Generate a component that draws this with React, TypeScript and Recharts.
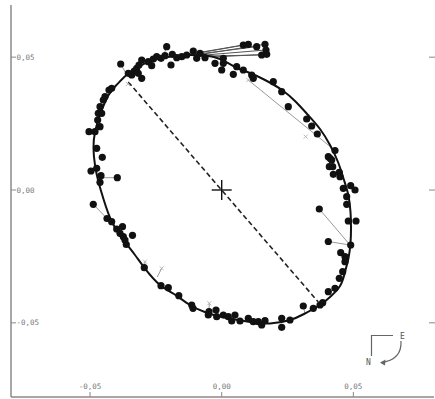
import {
  ComposedChart,
  Line,
  ReferenceLine,
  Scatter,
  XAxis,
  YAxis,
} from "recharts"

const ORBIT = [
  { x: -0.01204, y: 0.05081 }, { x: -0.00634, y: 0.05063 }, { x: -0.00065, y: 0.04931 },
  { x: 0.00505, y: 0.0463 }, { x: 0.01075, y: 0.04404 }, { x: 0.01645, y: 0.0414 },
  { x: 0.0229, y: 0.03764 }, { x: 0.02822, y: 0.03312 }, { x: 0.03278, y: 0.02823 },
  { x: 0.03733, y: 0.02296 }, { x: 0.04113, y: 0.01694 }, { x: 0.04417, y: 0.01054 },
  { x: 0.04645, y: 0.00376 }, { x: 0.04808, y: -0.00188 }, { x: 0.04892, y: -0.00828 },
  { x: 0.04911, y: -0.0143 }, { x: 0.04892, y: -0.01995 }, { x: 0.04816, y: -0.0256 },
  { x: 0.04683, y: -0.03086 }, { x: 0.04493, y: -0.03613 }, { x: 0.04113, y: -0.04027 },
  { x: 0.03733, y: -0.04329 }, { x: 0.03126, y: -0.04667 }, { x: 0.02594, y: -0.04893 },
  { x: 0.01834, y: -0.05025 }, { x: 0.01075, y: -0.04968 }, { x: 0.00505, y: -0.04874 },
  { x: -0.00065, y: -0.04761 }, { x: -0.00596, y: -0.04611 }, { x: -0.01204, y: -0.04329 },
  { x: -0.01812, y: -0.03915 }, { x: -0.02343, y: -0.03576 }, { x: -0.02913, y: -0.02955 },
  { x: -0.03293, y: -0.02447 }, { x: -0.03673, y: -0.01957 }, { x: -0.04166, y: -0.01204 },
  { x: -0.04489, y: -0.00339 }, { x: -0.04679, y: 0.00301 }, { x: -0.04812, y: 0.00941 },
  { x: -0.04869, y: 0.01581 }, { x: -0.04812, y: 0.02183 }, { x: -0.04622, y: 0.02823 },
  { x: -0.04318, y: 0.03538 }, { x: -0.03995, y: 0.03952 }, { x: -0.03616, y: 0.04329 },
  { x: -0.03179, y: 0.0463 }, { x: -0.02647, y: 0.04874 }, { x: -0.0204, y: 0.05006 },
  { x: -0.01584, y: 0.05063 }, { x: -0.01204, y: 0.05081 },
]

// observed positions
const OBSERVED = [
  // upper left
  { x: -0.03836, y: 0.04743 }, { x: -0.03547, y: 0.04393 }, { x: -0.03418, y: 0.04329 },
  { x: -0.03319, y: 0.04479 }, { x: -0.03228, y: 0.04581 }, { x: -0.03141, y: 0.04705 },
  { x: -0.03038, y: 0.04893 }, { x: -0.03168, y: 0.04393 }, { x: -0.03038, y: 0.04204 },
  { x: -0.02788, y: 0.04829 }, { x: -0.02659, y: 0.04679 }, { x: -0.02598, y: 0.04931 },
  { x: -0.02469, y: 0.05017 }, { x: -0.02305, y: 0.04957 }, { x: -0.02153, y: 0.05055 },
  { x: -0.02089, y: 0.05394 }, { x: -0.01876, y: 0.05108 }, { x: -0.01926, y: 0.04705 },
  { x: -0.01709, y: 0.0498 }, { x: -0.01519, y: 0.05017 }, { x: -0.01329, y: 0.05081 },
  { x: -0.01079, y: 0.05232 }, { x: -0.0095, y: 0.04957 }, { x: -0.00824, y: 0.05145 },
  { x: -0.00634, y: 0.0498 }, { x: -0.00254, y: 0.04769 }, { x: 0.00061, y: 0.04957 },
  { x: 0.00061, y: 0.04769 }, { x: 0.0, y: 0.04517 }, { x: 0.00441, y: 0.04355 },
  { x: 0.0057, y: 0.04641 }, { x: 0.0082, y: 0.04517 }, { x: 0.01139, y: 0.04329 },
  { x: 0.012, y: 0.04204 }, { x: 0.0196, y: 0.04076 }, { x: 0.02279, y: 0.037 },
  { x: 0.02529, y: 0.03135 },
  // the stray group at the top
  { x: 0.0082, y: 0.05458 }, { x: 0.0101, y: 0.05484 }, { x: 0.01329, y: 0.05394 },
  { x: 0.01645, y: 0.05484 }, { x: 0.01683, y: 0.0527 }, { x: 0.01519, y: 0.05081 },
  { x: 0.01709, y: 0.05108 },
  // left side
  { x: -0.04178, y: 0.03828 }, { x: -0.0428, y: 0.03764 }, { x: -0.04432, y: 0.03512 },
  { x: -0.04497, y: 0.03388 }, { x: -0.04622, y: 0.03135 }, { x: -0.04687, y: 0.02887 },
  { x: -0.04558, y: 0.02887 }, { x: -0.0471, y: 0.02635 }, { x: -0.04622, y: 0.02383 },
  { x: -0.0504, y: 0.02194 }, { x: -0.04812, y: 0.02194 }, { x: -0.04748, y: 0.0157 },
  { x: -0.04535, y: 0.01231 }, { x: -0.04748, y: 0.00817 }, { x: -0.04964, y: 0.00715 },
  { x: -0.04584, y: 0.00538 }, { x: -0.03965, y: 0.00463 }, { x: -0.04622, y: 0.0029 },
  { x: -0.04877, y: -0.00538 }, { x: -0.04356, y: -0.01073 }, { x: -0.04178, y: -0.01193 },
  { x: -0.03988, y: -0.01468 }, { x: -0.03768, y: -0.01381 }, { x: -0.03863, y: -0.0163 },
  { x: -0.03737, y: -0.01758 }, { x: -0.03388, y: -0.01705 }, { x: -0.03673, y: -0.01882 },
  { x: -0.03623, y: -0.02051 }, { x: -0.0294, y: -0.02925 },
  // bottom
  { x: -0.02305, y: -0.03602 }, { x: -0.02028, y: -0.03677 }, { x: -0.01629, y: -0.03979 },
  { x: -0.01139, y: -0.04329 }, { x: -0.0109, y: -0.04453 }, { x: -0.00482, y: -0.04581 },
  { x: -0.00216, y: -0.04517 }, { x: -0.00509, y: -0.04705 }, { x: -0.0019, y: -0.04769 },
  { x: 0.00061, y: -0.04705 }, { x: 0.00251, y: -0.04769 }, { x: 0.0038, y: -0.04931 },
  { x: 0.00505, y: -0.04705 }, { x: 0.00695, y: -0.04931 }, { x: 0.0101, y: -0.04829 },
  { x: 0.012, y: -0.04957 }, { x: 0.0139, y: -0.04957 }, { x: 0.01519, y: -0.05081 },
  { x: 0.01645, y: -0.0492 }, { x: 0.02279, y: -0.04829 }, { x: 0.02279, y: -0.05168 },
  { x: 0.02594, y: -0.04893 }, { x: 0.03099, y: -0.04366 }, { x: 0.03479, y: -0.04453 },
  { x: 0.03733, y: -0.04329 }, { x: 0.03836, y: -0.04242 },
  // lower right
  { x: 0.04049, y: -0.03828 }, { x: 0.04303, y: -0.037 }, { x: 0.04466, y: -0.03324 },
  { x: 0.04596, y: -0.03075 }, { x: 0.04683, y: -0.02699 }, { x: 0.0452, y: -0.0236 },
  { x: 0.04683, y: -0.02511 }, { x: 0.04049, y: -0.01938 }, { x: 0.04899, y: -0.0207 },
  { x: 0.03707, y: -0.00715 },
  // upper right
  { x: 0.03228, y: 0.02672 }, { x: 0.03418, y: 0.02409 }, { x: 0.03631, y: 0.02108 },
  { x: 0.04303, y: 0.01487 }, { x: 0.04049, y: 0.01253 }, { x: 0.04113, y: 0.01193 },
  { x: 0.04178, y: 0.01129 }, { x: 0.04087, y: 0.00877 }, { x: 0.04216, y: 0.00877 },
  { x: 0.04239, y: 0.00591 }, { x: 0.04466, y: 0.00666 }, { x: 0.04493, y: 0.00501 },
  { x: 0.04618, y: 0.00064 }, { x: 0.04899, y: 0.00162 }, { x: 0.05063, y: 0.0 },
  { x: 0.04748, y: -0.00252 }, { x: 0.04748, y: -0.00538 }, { x: 0.04808, y: -0.01167 },
  { x: 0.05101, y: -0.01167 },
]

// O-C lines: observed -> computed  [x1, y1, x2, y2]
const TOP_LINKS = [
  [0.0082, 0.05458, -0.01508, 0.05063],
  [0.0101, 0.05484, -0.01318, 0.05081],
  [0.01329, 0.05394, -0.01128, 0.05089],
  [0.01645, 0.05484, -0.00938, 0.05081],
  [0.01683, 0.0527, -0.00748, 0.0507],
  [0.01519, 0.05081, -0.00558, 0.05044],
  [0.01709, 0.05108, -0.00368, 0.05006],
]
const RESIDUALS = [
  [-0.03836, 0.04743, -0.03578, 0.04291],
  [-0.02089, 0.05394, -0.02229, 0.05006],
  [-0.03965, 0.00463, -0.0466, 0.00463],
  [-0.04877, -0.00538, -0.04356, -0.01073],
  [-0.02279, -0.02947, -0.02446, -0.03275],
  [-0.02913, -0.02699, -0.0294, -0.02925],
  [-0.00471, -0.04265, -0.00482, -0.04581],
  [0.03099, -0.04366, 0.03164, -0.04649],
  [0.03707, -0.00715, 0.04873, -0.0207],
  [0.04049, -0.01938, 0.04873, -0.0207],
  [0.0101, 0.0414, 0.04303, 0.01487],
]
// small grey marks at computed positions
const COMPUTED = [
  { x: -0.03559, y: 0.0399 }, { x: 0.0101, y: 0.0414 }, { x: 0.0319, y: 0.02006 },
  { x: -0.02913, y: -0.02699 }, { x: -0.02279, y: -0.02947 }, { x: -0.00471, y: -0.04265 },
]
const NODE_LINE = [
  { x: -0.03547, y: 0.04065 },
  { x: 0.03669, y: -0.04216 },
]
const PRIMARY = [{ x: 0, y: 0 }]
const TICKS = [-0.05, 0, 0.05]

const X_DOMAIN = [-0.08002, 0.08063]
const Y_DOMAIN = [-0.07791, 0.06963]

const AXIS_GREY = "#8a8a8a"
const LABEL_GREY = "#777"
const MONO = "'DejaVu Sans Mono', monospace"

const fmt = (v: number) => v.toFixed(2).replace(".", ",")

function LeftTick({ x, y, payload }: any) {
  return (
    <g>
      <line x1={x} y1={y} x2={x + 5} y2={y} stroke={AXIS_GREY} />
      <text x={x + 5.5} y={y + 2.5} fontSize={7.5} fill={LABEL_GREY} fontFamily={MONO}>
        {fmt(payload.value)}
      </text>
    </g>
  )
}

function RightTick({ x, y }: any) {
  return <line x1={x - 5} y1={y} x2={x + 1} y2={y} stroke={AXIS_GREY} />
}

function BottomTick({ x, y, payload }: any) {
  return (
    <g>
      <line x1={x} y1={y} x2={x} y2={y - 5} stroke={AXIS_GREY} />
      <text x={x} y={y - 8} fontSize={7.5} fill={LABEL_GREY} fontFamily={MONO} textAnchor="middle">
        {fmt(payload.value)}
      </text>
    </g>
  )
}

const Dot = (p: any) => <circle cx={p.cx} cy={p.cy} r={3.6} fill="#111" />

const Plus = (p: any) => (
  <g stroke="#111" strokeWidth={1.4}>
    <line x1={p.cx - 10} y1={p.cy} x2={p.cx + 10} y2={p.cy} />
    <line x1={p.cx} y1={p.cy - 10} x2={p.cx} y2={p.cy + 10} />
  </g>
)

const SmallX = (p: any) => (
  <g stroke="#aaa" strokeWidth={0.8}>
    <line x1={p.cx - 2} y1={p.cy - 2} x2={p.cx + 2} y2={p.cy + 2} />
    <line x1={p.cx - 2} y1={p.cy + 2} x2={p.cx + 2} y2={p.cy - 2} />
  </g>
)

function Compass() {
  return (
    <svg width={435} height={399} style={{ position: "absolute", left: 0, top: 0, pointerEvents: "none" }}>
      <path d="M371.5 356 V335.5 H393" fill="none" stroke="#666" strokeWidth={1.2} />
      <text x={400} y={338.5} fontSize={8} fill="#555" fontFamily={MONO}>E</text>
      <text x={366} y={365} fontSize={8} fill="#555" fontFamily={MONO}>N</text>
      <path d="M401 341 Q402 360 381 362.5" fill="none" stroke="#666" strokeWidth={1.2} />
      <path d="M380 362.7 L385.5 359.5 L385 365.5 Z" fill="#666" />
    </svg>
  )
}

export default function App() {
  return (
    <div style={{ position: "absolute", left: 0, top: 0, width: 435, height: 399, background: "#fff" }}>
      <ComposedChart width={435} height={399} margin={{ top: 5, right: 0, bottom: 1, left: 10 }}>
        <XAxis
          type="number"
          dataKey="x"
          domain={X_DOMAIN}
          ticks={TICKS}
          allowDataOverflow
          height={1}
          tickSize={0}
          tickMargin={0}
          tickLine={false}
          axisLine={{ stroke: AXIS_GREY, strokeWidth: 1.5 }}
          tick={<BottomTick />}
        />
        <YAxis
          yAxisId="l"
          type="number"
          dataKey="y"
          domain={Y_DOMAIN}
          ticks={TICKS}
          allowDataOverflow
          width={1}
          tickSize={0}
          tickMargin={0}
          tickLine={false}
          axisLine={{ stroke: AXIS_GREY, strokeWidth: 1.5 }}
          tick={<LeftTick />}
        />
        <YAxis
          yAxisId="r"
          orientation="right"
          type="number"
          domain={Y_DOMAIN}
          ticks={TICKS}
          allowDataOverflow
          width={1}
          tickSize={0}
          tickMargin={0}
          tickLine={false}
          axisLine={false}
          tick={<RightTick />}
        />

        {RESIDUALS.map((r, i) => (
          <ReferenceLine
            key={"r" + i}
            yAxisId="l"
            segment={[{ x: r[0], y: r[1] }, { x: r[2], y: r[3] }]}
            stroke="#9a9a9a"
            strokeWidth={1}
          />
        ))}
        {TOP_LINKS.map((r, i) => (
          <ReferenceLine
            key={"t" + i}
            yAxisId="l"
            segment={[{ x: r[0], y: r[1] }, { x: r[2], y: r[3] }]}
            stroke="#555"
            strokeWidth={1}
          />
        ))}
        <ReferenceLine
          yAxisId="l"
          segment={NODE_LINE}
          stroke="#222"
          strokeWidth={1.6}
          strokeDasharray="5 3"
        />

        <Line
          yAxisId="l"
          data={ORBIT}
          dataKey="y"
          type="natural"
          stroke="#111"
          strokeWidth={2}
          dot={false}
          activeDot={false}
          isAnimationActive={false}
        />
        <Scatter yAxisId="l" data={COMPUTED} shape={SmallX} isAnimationActive={false} />
        <Scatter yAxisId="l" data={OBSERVED} shape={Dot} isAnimationActive={false} />
        <Scatter yAxisId="l" data={PRIMARY} shape={Plus} isAnimationActive={false} />
      </ComposedChart>
      <Compass />
    </div>
  )
}
